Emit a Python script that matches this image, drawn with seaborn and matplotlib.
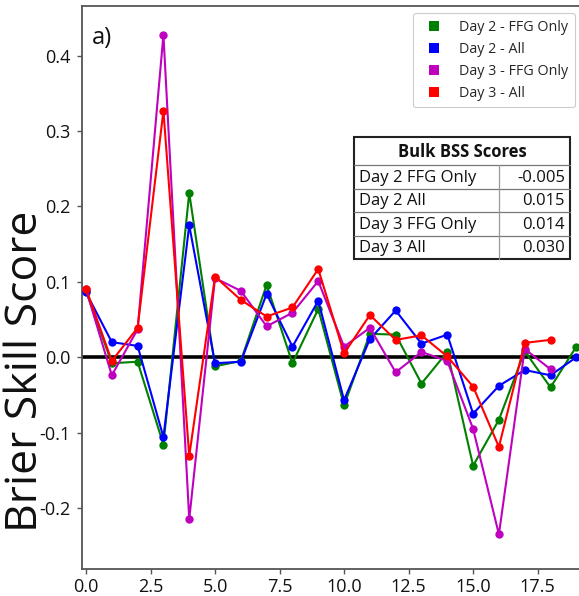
import numpy as np
import pandas as pd
import matplotlib
matplotlib.use("Agg")
import matplotlib.pyplot as plt
from matplotlib.lines import Line2D
from matplotlib.patches import Rectangle
from matplotlib.ticker import FixedLocator, FuncFormatter
import seaborn as sns

# ---------------- data ----------------
series_names = ["Day 2 - FFG Only", "Day 2 - All", "Day 3 - FFG Only", "Day 3 - All"]
series_colors = ["#008000", "#0000ff", "#bf00bf", "#ff0000"]

x_day2 = list(range(20))
x_day3 = list(range(19))

d2_ffg = [0.088, -0.008, -0.006, -0.116, 0.218, -0.012, -0.005, 0.096, -0.008, 0.064,
          -0.064, 0.031, 0.030, -0.035, 0.007, -0.144, -0.083, 0.008, -0.040, 0.014]
d2_all = [0.086, 0.020, 0.015, -0.106, 0.175, -0.008, -0.006, 0.084, 0.014, 0.075,
          -0.057, 0.024, 0.062, 0.018, 0.030, -0.075, -0.038, -0.017, -0.024, 0.000]
d3_ffg = [0.090, -0.024, 0.037, 0.428, -0.215, 0.105, 0.088, 0.041, 0.059, 0.101,
          0.014, 0.039, -0.020, 0.007, -0.005, -0.095, -0.235, 0.011, -0.016]
d3_all = [0.091, -0.005, 0.039, 0.327, -0.131, 0.107, 0.076, 0.054, 0.066, 0.117,
          0.005, 0.056, 0.023, 0.029, 0.001, -0.039, -0.119, 0.019, 0.023]

x_ticks = [0.0, 2.5, 5.0, 7.5, 10.0, 12.5, 15.0, 17.5]
y_ticks = [-0.2, -0.1, 0.0, 0.1, 0.2, 0.3, 0.4]

table_title = "Bulk BSS Scores"
table_labels = ["Day 2 FFG Only", "Day 2 All", "Day 3 FFG Only", "Day 3 All"]
table_values = ["-0.005", "0.015", "0.014", "0.030"]

panel_label = "a)"
y_label = "Brier Skill Score"

# ---------------- frame ----------------
frames = []
for name, xs, ys in [(series_names[0], x_day2, d2_ffg),
                     (series_names[1], x_day2, d2_all),
                     (series_names[2], x_day3, d3_ffg),
                     (series_names[3], x_day3, d3_all)]:
    frames.append(pd.DataFrame({"x": xs, "score": ys, "series": name}))
df = pd.concat(frames, ignore_index=True)

sns.set_style("white")
plt.rcParams["font.family"] = ["Open Sans", "DejaVu Sans"]
plt.rcParams["axes.unicode_minus"] = False

W, H = 579, 596
fig = plt.figure(figsize=(W / 100, H / 100), dpi=100)
ax_l, ax_r, ax_t, ax_b = 82, 582, 6, 569
ax = fig.add_axes([ax_l / W, (H - ax_b) / H, (ax_r - ax_l) / W, (ax_b - ax_t) / H])

ax.axhline(0.0, color="black", lw=2.6, zorder=1)

palette = dict(zip(series_names, series_colors))
sns.lineplot(data=df, x="x", y="score", hue="series", hue_order=series_names,
             palette=palette, marker="o", markersize=6, markeredgewidth=0,
             linewidth=1.5, legend=False, ax=ax, zorder=3)

ax.set_xlim(-0.155, 19.22)
ax.set_ylim(-0.281, 0.466)
ax.xaxis.set_major_locator(FixedLocator(x_ticks))
ax.yaxis.set_major_locator(FixedLocator(y_ticks))
ax.xaxis.set_major_formatter(FuncFormatter(lambda v, p: f"{v:.1f}"))
ax.yaxis.set_major_formatter(FuncFormatter(lambda v, p: f"{v:.1f}"))
ax.tick_params(axis="both", which="major", labelsize=13, length=3.5, width=1,
               color="#555555", direction="out", bottom=True, left=True,
               labelcolor="#111111")
ax.tick_params(axis="y", pad=5)
ax.tick_params(axis="x", pad=3)
ax.set_xlabel("")
ax.set_ylabel("")
fig.text(37 / W, 1 - 371 / H, y_label, rotation=90, rotation_mode="anchor",
         ha="center", va="baseline", fontsize=32, color="#111111")

for side in ["left", "bottom", "top", "right"]:
    ax.spines[side].set_color("#555555")
    ax.spines[side].set_linewidth(1.3)

ax.text(0.02, 0.965, panel_label, transform=ax.transAxes, fontsize=17,
        ha="left", va="top", color="#111111")

# legend
handles = [Line2D([0], [0], marker="s", color="none", markerfacecolor=c,
                  markeredgewidth=0, markersize=6.5) for c in series_colors]
leg = ax.legend(handles, series_names, loc="upper right", fontsize=10.3,
                frameon=True, fancybox=True, framealpha=1, edgecolor="#cccccc",
                borderaxespad=0.5, labelspacing=0.5, borderpad=0.45)
leg.get_frame().set_linewidth(0.8)

# table (axes fraction)
def fx(px):
    return (px - ax_l) / (ax_r - ax_l)

def fy(py):
    return (ax_b - py) / (ax_b - ax_t)

t_left, t_right, t_top, t_bot = 354, 570, 137, 259
col_split = 499
head_bot = 165
row_h = (t_bot - head_bot) / len(table_labels)

ax.add_patch(Rectangle((fx(t_left), fy(t_bot)), fx(t_right) - fx(t_left), fy(t_top) - fy(t_bot),
                       transform=ax.transAxes, facecolor="white", edgecolor="#222222",
                       linewidth=1.5, zorder=5))
ax.plot([fx(t_left), fx(t_right)], [fy(head_bot), fy(head_bot)], transform=ax.transAxes,
        color="#777777", lw=0.9, zorder=6)
for i in range(1, len(table_labels)):
    yy = head_bot + i * row_h
    ax.plot([fx(t_left), fx(t_right)], [fy(yy), fy(yy)], transform=ax.transAxes,
            color="#777777", lw=0.9, zorder=6)
ax.plot([fx(col_split), fx(col_split)], [fy(head_bot), fy(t_bot)], transform=ax.transAxes,
        color="#999999", lw=0.9, zorder=6)

ax.text((fx(t_left) + fx(t_right)) / 2, fy((t_top + head_bot) / 2 + 1), table_title,
        transform=ax.transAxes, ha="center", va="center", fontsize=12,
        fontweight="bold", color="#111111", zorder=7)
for i, (lab, val) in enumerate(zip(table_labels, table_values)):
    yc = head_bot + (i + 0.5) * row_h + 1
    ax.text(fx(t_left + 5), fy(yc), lab, transform=ax.transAxes, ha="left", va="center",
            fontsize=12, color="#111111", zorder=7)
    ax.text(fx(t_right - 5), fy(yc), val, transform=ax.transAxes, ha="right", va="center",
            fontsize=12, color="#111111", zorder=7)

fig.savefig("out.png", dpi=100)
